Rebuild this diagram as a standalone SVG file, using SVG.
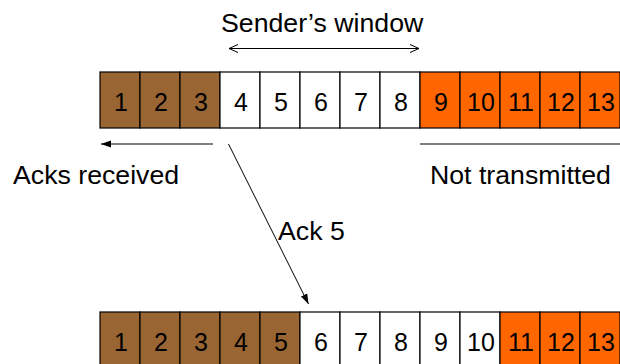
<svg xmlns="http://www.w3.org/2000/svg" width="620" height="364" viewBox="0 0 620 364">
  <style>
    .cell { stroke: #000; stroke-width: 1.2; }
    .acked { fill: #996633; }
    .open { fill: #ffffff; }
    .unsent { fill: #ff6600; }
    .num { font-family: "Liberation Sans", Arial, sans-serif; font-size: 25px; fill: #000; text-anchor: middle; }
    .label { font-family: "Liberation Sans", Arial, sans-serif; font-size: 26.7px; fill: #000; }
    .wire { stroke: #000; stroke-width: 1; fill: none; }
  </style>
  <defs>
    <marker id="vee" viewBox="0 0 10 10" refX="10" refY="5" markerWidth="10" markerHeight="10" markerUnits="userSpaceOnUse" orient="auto-start-reverse">
      <path d="M1,1 L10,5 L1,9" fill="none" stroke="#000" stroke-width="1"/>
    </marker>
    <marker id="solid" viewBox="0 0 10 10" refX="10" refY="5" markerWidth="10" markerHeight="10" markerUnits="userSpaceOnUse" orient="auto">
      <path d="M0,1.5 L10,5 L0,8.5 Z" fill="#000"/>
    </marker>
  </defs>

  <!-- sliding window before the ack -->
  <g id="row-before">
    <rect class="cell acked" x="100" y="72" width="40" height="56"/>
    <rect class="cell acked" x="140" y="72" width="40" height="56"/>
    <rect class="cell acked" x="180" y="72" width="40" height="56"/>
    <rect class="cell open" x="220" y="72" width="40" height="56"/>
    <rect class="cell open" x="260" y="72" width="40" height="56"/>
    <rect class="cell open" x="300" y="72" width="40" height="56"/>
    <rect class="cell open" x="340" y="72" width="40" height="56"/>
    <rect class="cell open" x="380" y="72" width="40" height="56"/>
    <rect class="cell unsent" x="420" y="72" width="40" height="56"/>
    <rect class="cell unsent" x="460" y="72" width="40" height="56"/>
    <rect class="cell unsent" x="500" y="72" width="40" height="56"/>
    <rect class="cell unsent" x="540" y="72" width="40" height="56"/>
    <rect class="cell unsent" x="580" y="72" width="40" height="56"/>
    <text class="num" x="121" y="111">1</text>
    <text class="num" x="161" y="111">2</text>
    <text class="num" x="201" y="111">3</text>
    <text class="num" x="241" y="111">4</text>
    <text class="num" x="281" y="111">5</text>
    <text class="num" x="321" y="111">6</text>
    <text class="num" x="361" y="111">7</text>
    <text class="num" x="401" y="111">8</text>
    <text class="num" x="441" y="111">9</text>
    <text class="num" x="481" y="111">10</text>
    <text class="num" x="521" y="111">11</text>
    <text class="num" x="561" y="111">12</text>
    <text class="num" x="601" y="111">13</text>
  </g>

  <!-- sliding window after the ack -->
  <g id="row-after">
    <rect class="cell acked" x="100" y="312" width="40" height="56"/>
    <rect class="cell acked" x="140" y="312" width="40" height="56"/>
    <rect class="cell acked" x="180" y="312" width="40" height="56"/>
    <rect class="cell acked" x="220" y="312" width="40" height="56"/>
    <rect class="cell acked" x="260" y="312" width="40" height="56"/>
    <rect class="cell open" x="300" y="312" width="40" height="56"/>
    <rect class="cell open" x="340" y="312" width="40" height="56"/>
    <rect class="cell open" x="380" y="312" width="40" height="56"/>
    <rect class="cell open" x="420" y="312" width="40" height="56"/>
    <rect class="cell open" x="460" y="312" width="40" height="56"/>
    <rect class="cell unsent" x="500" y="312" width="40" height="56"/>
    <rect class="cell unsent" x="540" y="312" width="40" height="56"/>
    <rect class="cell unsent" x="580" y="312" width="40" height="56"/>
    <text class="num" x="121" y="351">1</text>
    <text class="num" x="161" y="351">2</text>
    <text class="num" x="201" y="351">3</text>
    <text class="num" x="241" y="351">4</text>
    <text class="num" x="281" y="351">5</text>
    <text class="num" x="321" y="351">6</text>
    <text class="num" x="361" y="351">7</text>
    <text class="num" x="401" y="351">8</text>
    <text class="num" x="441" y="351">9</text>
    <text class="num" x="481" y="351">10</text>
    <text class="num" x="521" y="351">11</text>
    <text class="num" x="561" y="351">12</text>
    <text class="num" x="601" y="351">13</text>
  </g>

  <g id="label-window">
    <text class="label" x="221" y="32">Sender’s window</text>
  </g>
  <g id="label-acks">
    <text class="label" x="13" y="184">Acks received</text>
  </g>
  <g id="label-unsent">
    <text class="label" x="430" y="184">Not transmitted</text>
  </g>
  <g id="label-ack5">
    <text class="label" x="278" y="240">Ack 5</text>
  </g>

  <g id="connectors">
    <line class="wire" x1="229" y1="48.5" x2="419" y2="48.5" marker-start="url(#vee)" marker-end="url(#vee)"/>
    <line class="wire" x1="213" y1="144" x2="101" y2="144" marker-end="url(#solid)"/>
    <line class="wire" x1="420" y1="144" x2="630" y2="144" stroke="#444"/>
    <line class="wire" x1="228.5" y1="144" x2="308.5" y2="304" marker-end="url(#solid)"/>
  </g>
</svg>
